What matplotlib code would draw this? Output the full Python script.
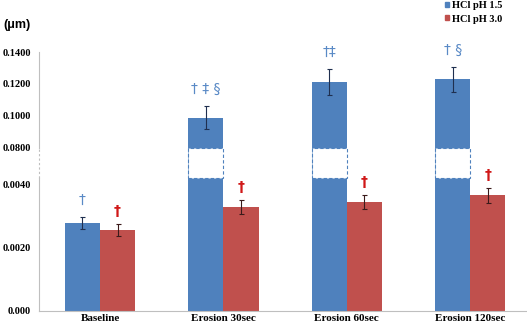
import numpy as np
import matplotlib
matplotlib.use("Agg")
import matplotlib.pyplot as plt
from matplotlib.patches import Patch
from matplotlib.transforms import blended_transform_factory

# ---- data ----
categories = ["Baseline", "Erosion 30sec", "Erosion 60sec", "Erosion 120sec"]
series_names = ["HCl pH 1.5", "HCl pH 3.0"]
ph15_values = [0.00277, 0.0990, 0.1212, 0.1230]
ph15_errors = [0.00019, 0.0075, 0.0080, 0.0078]
ph30_values = [0.00255, 0.00328, 0.00343, 0.00365]
ph30_errors = [0.00019, 0.00022, 0.00022, 0.00024]
ph15_marks = ["\u2020", "\u2020 \u2021 \u00a7", "\u2020\u2021", "\u2020 \u00a7"]
ph30_marks = ["\u2020", "\u2020", "\u2020", "\u2020"]
ytick_values = [0.0, 0.002, 0.004, 0.08, 0.10, 0.12, 0.14]
ytick_labels = ["0.000", "0.0020", "0.0040", "0.0800", "0.1000", "0.1200", "0.1400"]
y_unit = "(\u03bcm)"

# ---- broken-axis scale ----
LO, HI = 0.0042, 0.08
A, GAP, B = 31750.0, 30.0, 1600.0

def fwd(v):
    v = np.asarray(v, dtype=float)
    return np.where(v <= LO, v * A,
           np.where(v <= HI, LO * A + (v - LO) / (HI - LO) * GAP,
                    LO * A + GAP + (v - HI) * B))

def inv(p):
    p = np.asarray(p, dtype=float)
    p1 = LO * A
    p2 = p1 + GAP
    return np.where(p <= p1, p / A,
           np.where(p <= p2, LO + (p - p1) / GAP * (HI - LO),
                    HI + (p - p2) / B))

BLUE = "#4F81BD"
RED = "#C0504D"
BLUE_TXT = "#5A8AC6"
RED_TXT = "#D01818"
GRID = "#BFBFBF"

fig = plt.figure(figsize=(5.27, 3.25), dpi=100)
ax = fig.add_axes([39 / 527, 1 - 311 / 325, 1 - 39 / 527, 259 / 325])
ax.set_yscale("function", functions=(fwd, inv))
ax.set_ylim(0, 0.14)

x = np.arange(len(categories))
w = 0.285
xb = x - w / 2
xr = x + w / 2

ax.bar(xb, ph15_values, w, color=BLUE, zorder=2)
ax.bar(xr, ph30_values, w, color=RED, zorder=2)

# break boxes on bars that cross the gap
v15 = np.array(ph15_values)
brk = v15 > HI
ax.bar(xb[brk], [HI - LO] * int(brk.sum()), w, bottom=LO, color="white",
       edgecolor=BLUE, linestyle=(0, (3, 2)), linewidth=0.8, zorder=3)

ax.errorbar(xb, ph15_values, yerr=ph15_errors, fmt="none", ecolor="#1F2F4F",
            elinewidth=0.8, capsize=1.8, capthick=0.8, zorder=4)
ax.errorbar(xr, ph30_values, yerr=ph30_errors, fmt="none", ecolor="#3A1A1A",
            elinewidth=0.8, capsize=1.8, capthick=0.8, zorder=4)

for xi, v, e, m in zip(xb, ph15_values, ph15_errors, ph15_marks):
    ax.annotate(m, (xi, v + e), xytext=(0, 17), textcoords="offset pixels",
                ha="center", va="center", color=BLUE_TXT, fontsize=10,
                family="DejaVu Sans")
for xi, v, e, m in zip(xr, ph30_values, ph30_errors, ph30_marks):
    ax.annotate(m, (xi, v + e), xytext=(0, 13), textcoords="offset pixels",
                ha="center", va="center", color=RED_TXT, fontsize=10,
                fontweight="bold", family="DejaVu Sans")

ax.set_xlim(-0.494, 3.46)
ax.set_xticks(x)
ax.set_xticklabels(categories, family="Liberation Serif", fontweight="bold",
                   fontsize=8)
ax.set_yticks(ytick_values)
ax.set_yticklabels(ytick_labels, family="Liberation Serif", fontweight="bold",
                   fontsize=7.5)
ax.yaxis.set_minor_locator(matplotlib.ticker.NullLocator())
ax.tick_params(axis="both", length=0)
ax.tick_params(axis="y", pad=6)
ax.tick_params(axis="x", pad=2)

for s in ["top", "right", "left"]:
    ax.spines[s].set_visible(False)
ax.spines["bottom"].set_color(GRID)
ax.spines["bottom"].set_linewidth(0.8)

# left axis line with dashed break
tr = blended_transform_factory(ax.transAxes, ax.transData)
ax.plot([0, 0], [0, LO], color=GRID, lw=0.8, transform=tr, clip_on=False)
ax.plot([0, 0], [LO, HI], color=GRID, lw=0.8, ls=(0, (2, 2)), transform=tr,
        clip_on=False)
ax.plot([0, 0], [HI, 0.14], color=GRID, lw=0.8, transform=tr, clip_on=False)

fig.text(3 / 527, 1 - 25 / 325, y_unit, family="Liberation Sans",
         fontweight="bold", fontsize=9, va="center", ha="left")

handles = [Patch(color=BLUE), Patch(color=RED)]
fig.legend(handles, series_names, loc="upper left",
           bbox_to_anchor=(445 / 527, 1 - 1 / 325), frameon=False,
           prop={"family": "Liberation Serif", "weight": "bold", "size": 7.5},
           handlelength=0.35, handleheight=0.35, handletextpad=0.3,
           labelspacing=0.45, borderpad=0, borderaxespad=0)

fig.savefig("out.png", dpi=100)
